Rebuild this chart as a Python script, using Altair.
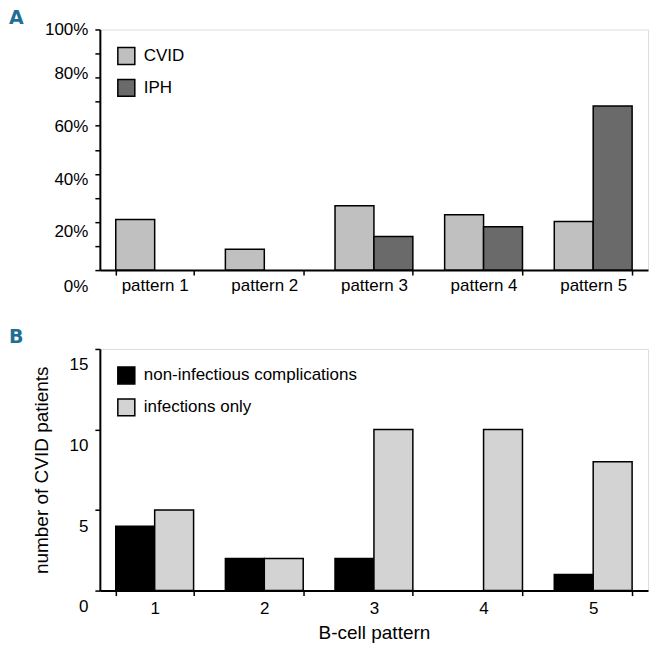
import altair as alt
import pandas as pd

patterns_a = ["pattern 1", "pattern 2", "pattern 3", "pattern 4", "pattern 5"]
cvid_pct = [21, 8.7, 26.7, 23, 20.2]
iph_pct = [0, 0, 14, 18, 68.2]

patterns_b = ["1", "2", "3", "4", "5"]
noninfectious = [4, 2, 2, 0, 1]
infections_only = [5, 2, 10, 10, 8]

groups_a = ["CVID", "IPH"]
colors_a = ["#c0c0c0", "#6a6a6a"]
groups_b = ["non-infectious complications", "infections only"]
colors_b = ["#000000", "#d3d3d3"]

FONT = "Liberation Sans, Arial, sans-serif"
FS = 17

df_a = pd.DataFrame(
    [{"pattern": p, "group": "CVID", "value": v} for p, v in zip(patterns_a, cvid_pct)]
    + [{"pattern": p, "group": "IPH", "value": v} for p, v in zip(patterns_a, iph_pct)]
)
df_b = pd.DataFrame(
    [{"pattern": p, "group": groups_b[0], "value": v} for p, v in zip(patterns_b, noninfectious)]
    + [{"pattern": p, "group": groups_b[1], "value": v} for p, v in zip(patterns_b, infections_only)]
)

W = 549

def legend():
    return alt.Legend(
        title=None, orient="top-left", offset=17, padding=0,
        symbolType="square", symbolSize=289, symbolStrokeColor="black",
        symbolStrokeWidth=1.5, labelFont=FONT, labelFontSize=FS, labelColor="black",
        labelOffset=8, rowPadding=9, symbolOpacity=1, labelLimit=0,
    )

xscale = alt.Scale(paddingInner=0.29, paddingOuter=0.145)

def xaxis(title=None, label_pad=2):
    return alt.Axis(
        title=title, labelAngle=0, tickBand="extent", tickSize=5, tickColor="black",
        tickWidth=1.5, domainColor="black", domainWidth=2, labelFont=FONT,
        labelFontSize=FS, labelColor="black", labelPadding=label_pad,
        titleFont=FONT, titleFontSize=19, titleFontWeight="normal",
        titleColor="black", titlePadding=7,
    )

bars_a = alt.Chart(df_a).transform_filter("datum.value > 0").mark_bar(
    stroke="black", strokeWidth=1.5
).encode(
    x=alt.X("pattern:N", sort=patterns_a, scale=xscale, axis=xaxis()),
    xOffset=alt.XOffset("group:N", scale=alt.Scale(domain=groups_a, paddingInner=0, paddingOuter=0)),
    y=alt.Y(
        "value:Q", scale=alt.Scale(domain=[0, 100], nice=False),
        axis=alt.Axis(
            title=None, values=list(range(0, 101, 10)),
            labelExpr="datum.value % 20 == 0 ? datum.value + '%' : ''",
            labelOffset=alt.ExprRef(
                "datum.value == 100 ? 0 : datum.value == 80 ? -4 : datum.value == 60 ? 1 : "
                "datum.value == 40 ? 6 : datum.value == 20 ? 10 : 16"
            ),
            tickSize=5, tickColor="black", tickWidth=1.5, domainColor="black",
            domainWidth=2, labelFont=FONT, labelFontSize=FS, labelColor="black",
            labelPadding=7, grid=False,
        ),
    ),
    color=alt.Color("group:N", scale=alt.Scale(domain=groups_a, range=colors_a), legend=legend()),
)

label_a = alt.Chart(pd.DataFrame({"t": ["A"]})).mark_text(
    font="DejaVu Sans, sans-serif", fontSize=19,
    fontWeight="bold", color="#1f6f94", align="left", baseline="middle",
).encode(x=alt.value(-91), y=alt.value(-11), text="t:N")

panel_a = alt.layer(bars_a, label_a).properties(width=W, height=241)

bars_b = alt.Chart(df_b).transform_filter("datum.value > 0").mark_bar(
    stroke="black", strokeWidth=1.5
).encode(
    x=alt.X("pattern:N", sort=patterns_b, scale=xscale, axis=xaxis("B-cell pattern", 5)),
    xOffset=alt.XOffset("group:N", scale=alt.Scale(domain=groups_b, paddingInner=0, paddingOuter=0)),
    y=alt.Y(
        "value:Q", scale=alt.Scale(domain=[0, 15], nice=False),
        axis=alt.Axis(
            title="number of CVID patients", values=[0, 5, 10, 15], labelOffset=16,
            tickSize=5, tickColor="black", tickWidth=1.5, domainColor="black",
            domainWidth=2, labelFont=FONT, labelFontSize=FS, labelColor="black",
            labelPadding=7, grid=False, titleFont=FONT, titleFontSize=19,
            titleFontWeight="normal", titleColor="black", titlePadding=18,
        ),
    ),
    color=alt.Color("group:N", scale=alt.Scale(domain=groups_b, range=colors_b), legend=legend()),
)

label_b = alt.Chart(pd.DataFrame({"t": ["B"]})).mark_text(
    font="DejaVu Sans, sans-serif", fontSize=19,
    fontWeight="bold", color="#1f6f94", align="left", baseline="middle",
).encode(x=alt.value(-91), y=alt.value(-12), text="t:N")

panel_b = alt.layer(bars_b, label_b).properties(width=W, height=242)

chart = alt.vconcat(panel_a, panel_b, spacing=32).resolve_scale(
    color="independent", x="independent", y="independent", xOffset="independent"
).resolve_legend(color="independent").configure_view(
    stroke="black", strokeWidth=2
).configure(padding={"left": 0, "top": 0, "right": 4, "bottom": 4}, background="white")

chart.save("out.html", embed_options={"renderer": "svg", "actions": False})
